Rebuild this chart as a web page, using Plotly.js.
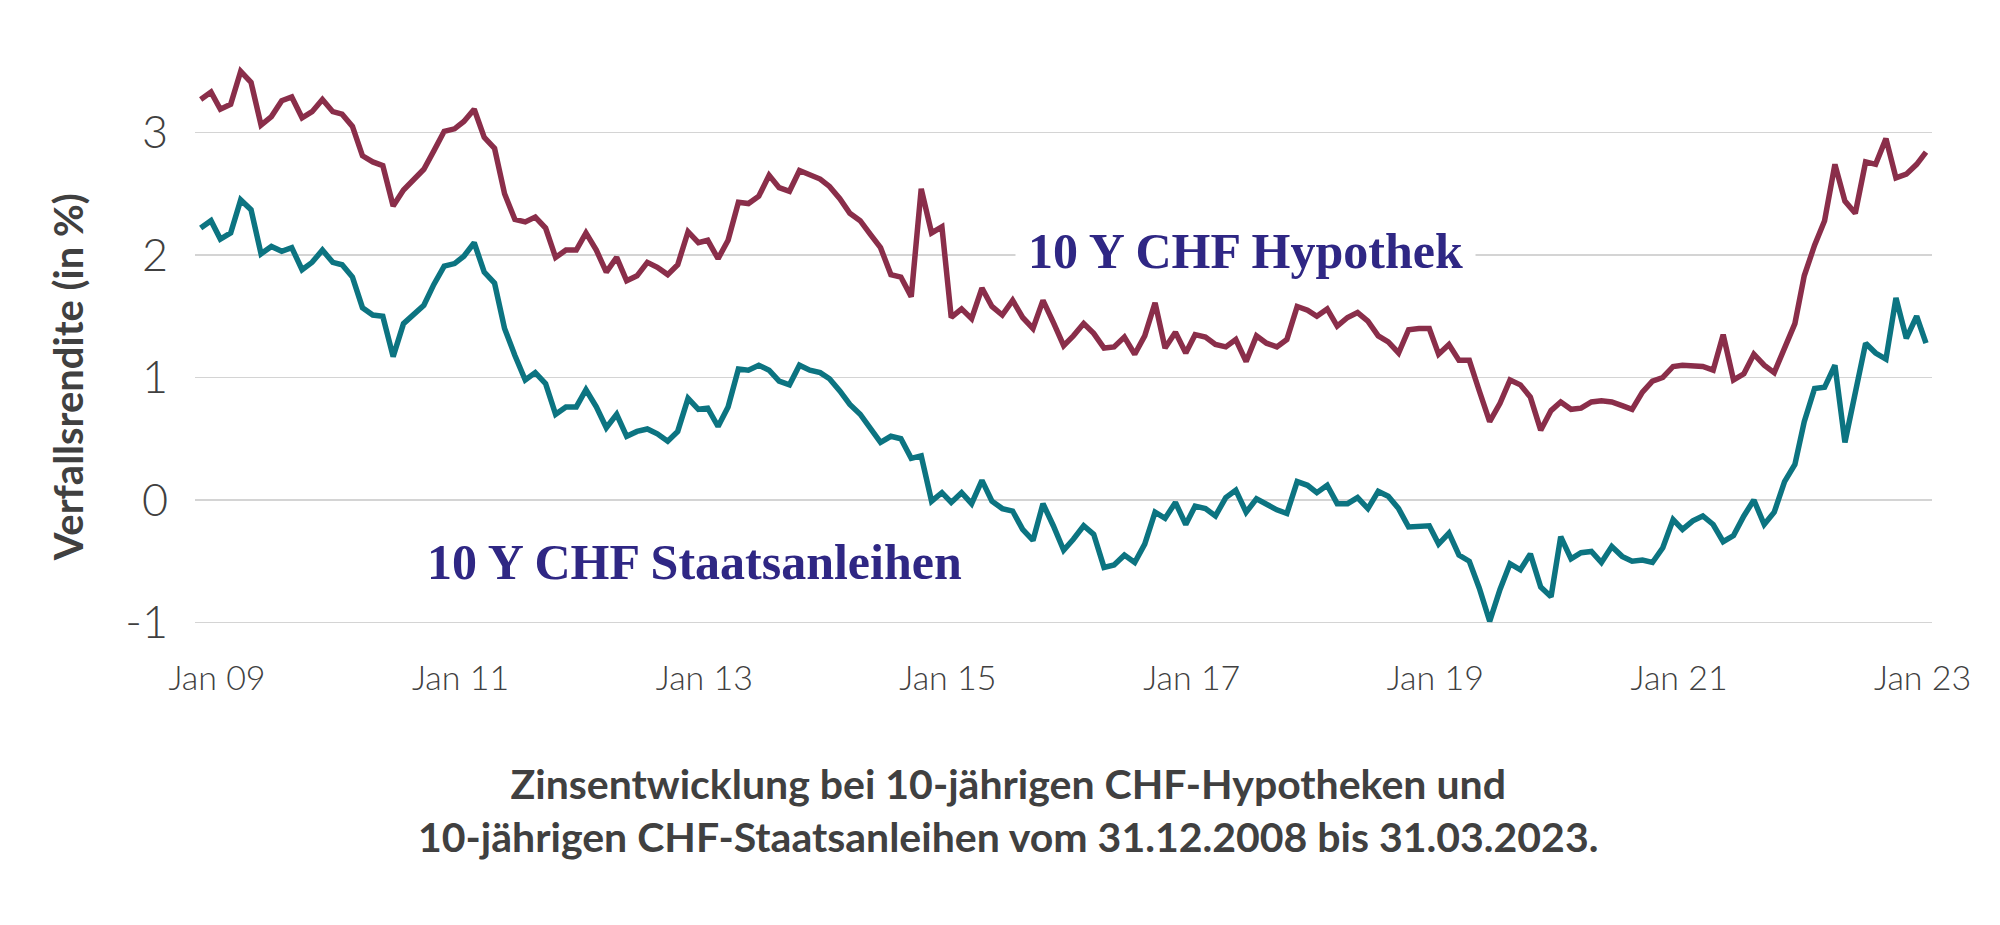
<!DOCTYPE html>
<html>
<head>
<meta charset="utf-8">
<script src="https://cdn.plot.ly/plotly-3.0.1.min.js"></script>
<style>
  html, body { margin: 0; padding: 0; background: #fff; }
  #chart { width: 2000px; height: 925px; }
</style>
</head>
<body>
<div id="chart"></div>
<script>
// monthly values, end of month, starting 31.12.2008
const firstYear = 2008;
const firstMonth = 11; // December (0-based)

const hypothek = [
  3.27, 3.33, 3.19, 3.23, 3.50, 3.41, 3.06, 3.13, 3.26, 3.29, 3.12, 3.17,
  3.27, 3.17, 3.15, 3.05, 2.81, 2.76, 2.73, 2.40, 2.53, 2.62, 2.70, 2.85,
  3.01, 3.03, 3.09, 3.19, 2.96, 2.87, 2.50, 2.29, 2.27, 2.31, 2.22, 1.98,
  2.04, 2.04, 2.18, 2.04, 1.86, 1.98, 1.79, 1.83, 1.94, 1.90, 1.84, 1.92,
  2.19, 2.10, 2.12, 1.97, 2.12, 2.43, 2.42, 2.48, 2.65, 2.55, 2.52, 2.69,
  2.65, 2.62, 2.56, 2.46, 2.34, 2.28, 2.17, 2.06, 1.84, 1.82, 1.66, 2.54,
  2.18, 2.23, 1.49, 1.56, 1.48, 1.73, 1.58, 1.51, 1.63, 1.49, 1.40, 1.63,
  1.45, 1.26, 1.34, 1.44, 1.36, 1.24, 1.25, 1.33, 1.19, 1.34, 1.61, 1.24,
  1.37, 1.20, 1.35, 1.33, 1.27, 1.25, 1.31, 1.13, 1.34, 1.28, 1.25, 1.31,
  1.58, 1.55, 1.50, 1.56, 1.42, 1.49, 1.53, 1.46, 1.34, 1.29, 1.20, 1.39,
  1.40, 1.40, 1.19, 1.27, 1.14, 1.14, 0.89, 0.64, 0.79, 0.98, 0.94, 0.84,
  0.57, 0.73, 0.80, 0.74, 0.75, 0.80, 0.81, 0.80, 0.77, 0.74, 0.88, 0.97,
  1.00, 1.09, 1.10, 1.10, 1.09, 1.06, 1.35, 0.98, 1.03, 1.19, 1.10, 1.04,
  1.24, 1.44, 1.83, 2.08, 2.28, 2.74, 2.44, 2.34, 2.76, 2.74, 2.95, 2.63,
  2.66, 2.74, 2.84
];

const staatsanleihen = [
  2.22, 2.28, 2.13, 2.18, 2.45, 2.37, 2.01, 2.07, 2.03, 2.06, 1.88, 1.94,
  2.04, 1.94, 1.92, 1.82, 1.57, 1.51, 1.50, 1.17, 1.44, 1.52, 1.59, 1.76,
  1.91, 1.93, 1.99, 2.10, 1.86, 1.77, 1.40, 1.18, 0.98, 1.04, 0.95, 0.70,
  0.76, 0.76, 0.90, 0.76, 0.59, 0.70, 0.52, 0.56, 0.58, 0.54, 0.48, 0.56,
  0.83, 0.74, 0.75, 0.60, 0.76, 1.07, 1.06, 1.10, 1.06, 0.97, 0.94, 1.10,
  1.06, 1.04, 0.99, 0.89, 0.78, 0.70, 0.59, 0.47, 0.52, 0.50, 0.34, 0.36,
  -0.01, 0.06, -0.02, 0.06, -0.03, 0.16, -0.01, -0.07, -0.09, -0.24, -0.33, -0.03,
  -0.21, -0.41, -0.32, -0.21, -0.28, -0.55, -0.53, -0.45, -0.51, -0.36, -0.10, -0.15,
  -0.02, -0.20, -0.05, -0.07, -0.13, 0.02, 0.08, -0.10, 0.01, -0.04, -0.08, -0.11,
  0.15, 0.12, 0.06, 0.12, -0.03, -0.03, 0.02, -0.07, 0.07, 0.03, -0.07, -0.22,
  -0.21, -0.21, -0.36, -0.27, -0.45, -0.50, -0.72, -0.99, -0.73, -0.52, -0.57, -0.44,
  -0.71, -0.79, -0.30, -0.48, -0.43, -0.42, -0.51, -0.38, -0.46, -0.50, -0.49, -0.51,
  -0.39, -0.16, -0.24, -0.17, -0.13, -0.20, -0.34, -0.29, -0.13, 0.00, -0.20, -0.10,
  0.15, 0.29, 0.64, 0.91, 0.92, 1.10, 0.47, 0.85, 1.28, 1.20, 1.15, 1.65,
  1.32, 1.50, 1.28
];

const tickDates = ['2009-01-01', '2011-01-01', '2013-01-01', '2015-01-01', '2017-01-01', '2019-01-01', '2021-01-01', '2023-01-01'];
const tickLabels = ['Jan 09', 'Jan 11', 'Jan 13', 'Jan 15', 'Jan 17', 'Jan 19', 'Jan 21', 'Jan 23'];
const yTicks = [-1, 0, 1, 2, 3];

const seriesNames = ['10 Y CHF Hypothek', '10 Y CHF Staatsanleihen'];
const yTitle = 'Verfallsrendite (in %)';
const caption = 'Zinsentwicklung bei 10-jährigen CHF-Hypotheken und<br>10-jährigen CHF-Staatsanleihen vom 31.12.2008 bis 31.03.2023.';

const colors = {
  hyp: '#8a2e4a',
  staat: '#0c7481',
  label: '#2f2784',
  grid: '#d4d4d4',
  text: '#404040'
};

//end-of-month date string for each value
function monthEnd (i) {
  let d = new Date(Date.UTC(firstYear, firstMonth + i + 1, 0));
  return d.toISOString().slice(0, 10);
}
let dates = hypothek.map((v, i) => monthEnd(i));

let hypTrace = {
  x: dates,
  y: hypothek,
  name: seriesNames[0],
  mode: 'lines',
  line: {color: colors.hyp, width: 5.5, shape: 'linear'},
  hoverinfo: 'skip'
}

let staatTrace = {
  x: dates,
  y: staatsanleihen,
  name: seriesNames[1],
  mode: 'lines',
  line: {color: colors.staat, width: 5.5, shape: 'linear'},
  hoverinfo: 'skip'
}

let labelFont = {family: '"Liberation Serif", "Times New Roman", serif', size: 50, weight: 700, color: colors.label};

let layout = {
  width: 2000,
  height: 925,
  margin: {l: 195, r: 68, t: 59, b: 278},
  paper_bgcolor: '#ffffff',
  plot_bgcolor: '#ffffff',
  showlegend: false,
  xaxis: {
    type: 'date',
    range: ['2008-12-14', '2023-03-18'],
    tickvals: tickDates,
    ticktext: tickLabels,
    showgrid: false,
    zeroline: false,
    showline: false,
    ticks: '',
    ticklabelshift: 16,
    ticklabelstandoff: 8,
    tickfont: {family: 'Lato, "Open Sans", sans-serif', size: 34, weight: 300, color: colors.text}
  },
  yaxis: {
    range: [-1.2, 3.6],
    tickvals: yTicks,
    ticktext: yTicks.map(String),
    showgrid: true,
    gridcolor: colors.grid,
    gridwidth: 1.4,
    zeroline: false,
    showline: false,
    ticks: '',
    ticklabelstandoff: 26,
    tickfont: {family: 'Lato, "Open Sans", sans-serif', size: 45, weight: 300, color: colors.text}
  },
  annotations: [
    {
      x: '2017-07-28', y: 2.03, xref: 'x', yref: 'y',
      text: seriesNames[0], showarrow: false,
      font: labelFont, bgcolor: '#ffffff', borderpad: 12,
      xanchor: 'center', yanchor: 'middle'
    },
    {
      x: '2013-01-20', y: -0.51, xref: 'x', yref: 'y',
      text: seriesNames[1], showarrow: false,
      font: labelFont, bgcolor: '#ffffff', borderpad: 6,
      xanchor: 'center', yanchor: 'middle'
    },
    {
      x: -0.073, y: 0.459, xref: 'paper', yref: 'paper',
      text: yTitle, showarrow: false, textangle: -90,
      font: {family: 'Lato, "Open Sans", sans-serif', size: 40, weight: 700, color: colors.text},
      xanchor: 'center', yanchor: 'middle'
    },
    {
      x: 0.468, y: -0.277, xref: 'paper', yref: 'paper',
      text: caption, showarrow: false, align: 'center',
      font: {family: 'Lato, "Open Sans", sans-serif', size: 41, weight: 700, color: colors.text},
      xanchor: 'center', yanchor: 'middle'
    }
  ]
}

let staticConfig = {staticPlot: true, displayModeBar: false};

Plotly.newPlot('chart', [hypTrace, staatTrace], layout, staticConfig);
</script>
</body>
</html>
